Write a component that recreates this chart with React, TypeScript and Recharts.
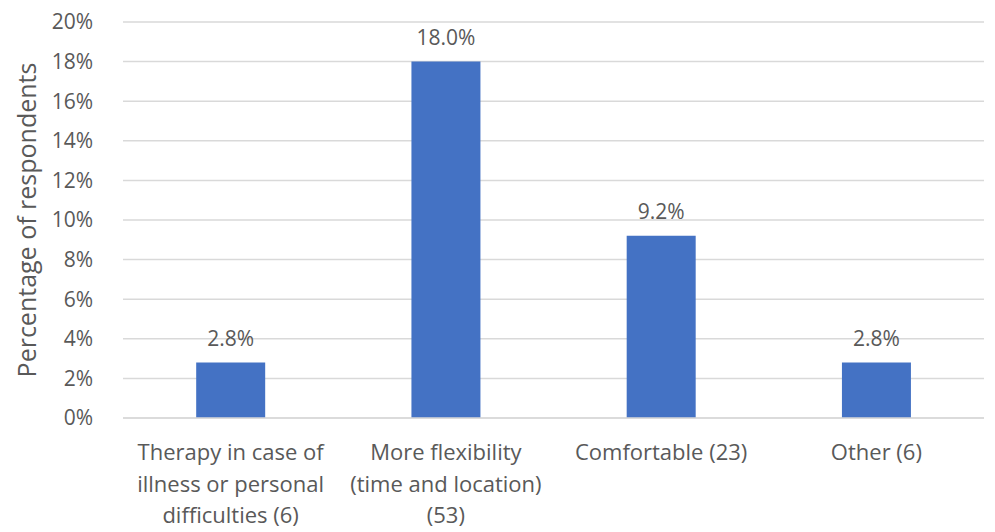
import { BarChart, Bar, XAxis, YAxis, CartesianGrid, LabelList } from 'recharts';

const categories: string[][] = [
    ['Therapy in case of', 'illness or personal', 'difficulties (6)'],
    ['More flexibility', '(time and location)', '(53)'],
    ['Comfortable (23)'],
    ['Other (6)'],
];
const percentages: number[] = [2.8, 18.0, 9.2, 2.8];
const yTicks: number[] = [0, 2, 4, 6, 8, 10, 12, 14, 16, 18, 20];

const FONT = '"Open Sans", sans-serif';
const TEXT = '#595959';

const data = categories.map((lines, i) => ({
    name: lines.join(' '),
    lines,
    value: percentages[i],
}));

function CategoryTick({ x, y, index }: any) {
    const lines = categories[index] || [];
    return (
        <text x={x} y={y} textAnchor="middle" fill={TEXT} fontSize={22} fontFamily={FONT}>
            {lines.map((line, i) => (
                <tspan key={i} x={x} dy={i === 0 ? 34 : 31.5}>{line}</tspan>
            ))}
        </text>
    );
}

export default function App() {
    return (
        <div>
            <style>{'body{margin:0}'}</style>
            <BarChart
                width={995}
                height={532}
                data={data}
                margin={{ top: 22, right: 11, bottom: 0, left: 0 }}
                barCategoryGap="34%"
            >
                <CartesianGrid vertical={false} stroke="#d9d9d9" strokeWidth={1.5} />
                <XAxis
                    dataKey="name"
                    height={114}
                    axisLine={{ stroke: '#d9d9d9', strokeWidth: 1.5 }}
                    tickLine={false}
                    interval={0}
                    tick={<CategoryTick />}
                />
                <YAxis
                    width={123}
                    domain={[0, 20]}
                    ticks={yTicks}
                    axisLine={false}
                    tickLine={false}
                    tickMargin={24}
                    tickFormatter={(v: number) => `${v}%`}
                    tick={{ fill: TEXT, fontSize: 21, fontFamily: FONT }}
                    label={{
                        value: 'Percentage of respondents',
                        angle: -90,
                        position: 'insideLeft',
                        dx: 22,
                        style: { fill: TEXT, fontSize: 25, fontFamily: FONT, textAnchor: 'middle' },
                    }}
                />
                <Bar dataKey="value" fill="#4472C4" isAnimationActive={false}>
                    <LabelList
                        dataKey="value"
                        position="top"
                        offset={17}
                        formatter={(v: any) => `${Number(v).toFixed(1)}%`}
                        style={{ fill: TEXT, fontSize: 21, fontFamily: FONT }}
                    />
                </Bar>
            </BarChart>
        </div>
    );
}
